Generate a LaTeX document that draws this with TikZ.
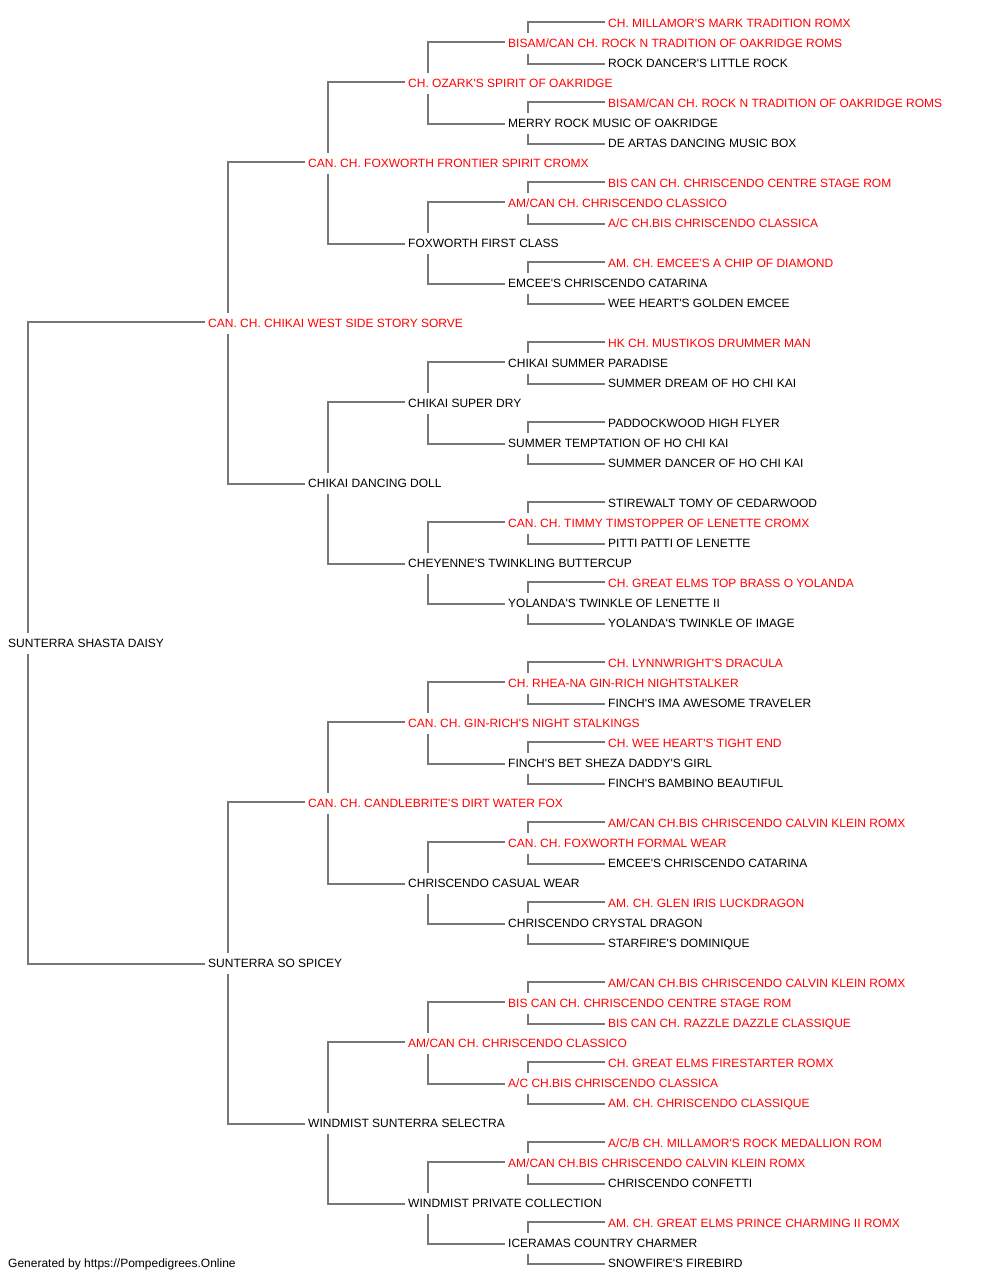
\documentclass[tikz,border=0pt]{standalone}
\usepackage{fontspec}
\newfontfamily\pf{Liberation Sans}
\usetikzlibrary{backgrounds}
\definecolor{linegray}{RGB}{119,119,119}
\definecolor{nred}{RGB}{255,0,0}
\tikzset{
  pn/.style={anchor=base west, inner sep=0pt, fill=white, text height=15pt, text depth=6pt,
             font=\pf\fontsize{12}{14}\selectfont, text=black},
  rd/.style={text=nred},
  conn/.style={draw=linegray, line width=2pt}
}
\newcommand\pn[5]{\node[pn,#4] (#1) at (#2,#3+4.6) {#5};}
\begin{document}
\begin{tikzpicture}[x=1pt,y=-1pt]
\useasboundingbox (0,0) rectangle (1000,1280);
% generation 0
\pn{p1}{8}{643}{}{SUNTERRA SHASTA DAISY}
% generation 1
\pn{p2}{208}{323}{rd}{CAN. CH. CHIKAI WEST SIDE STORY SORVE}
\pn{p3}{208}{963}{}{SUNTERRA SO SPICEY}
% generation 2
\pn{p4}{308}{163}{rd}{CAN. CH. FOXWORTH FRONTIER SPIRIT CROMX}
\pn{p5}{308}{483}{}{CHIKAI DANCING DOLL}
\pn{p6}{308}{803}{rd}{CAN. CH. CANDLEBRITE'S DIRT WATER FOX}
\pn{p7}{308}{1123}{}{WINDMIST SUNTERRA SELECTRA}
% generation 3
\pn{p8}{408}{83}{rd}{CH. OZARK'S SPIRIT OF OAKRIDGE}
\pn{p9}{408}{243}{}{FOXWORTH FIRST CLASS}
\pn{p10}{408}{403}{}{CHIKAI SUPER DRY}
\pn{p11}{408}{563}{}{CHEYENNE'S TWINKLING BUTTERCUP}
\pn{p12}{408}{723}{rd}{CAN. CH. GIN-RICH'S NIGHT STALKINGS}
\pn{p13}{408}{883}{}{CHRISCENDO CASUAL WEAR}
\pn{p14}{408}{1043}{rd}{AM/CAN CH. CHRISCENDO CLASSICO}
\pn{p15}{408}{1203}{}{WINDMIST PRIVATE COLLECTION}
% generation 4
\pn{p16}{508}{43}{rd}{BISAM/CAN CH. ROCK N TRADITION OF OAKRIDGE ROMS}
\pn{p17}{508}{123}{}{MERRY ROCK MUSIC OF OAKRIDGE}
\pn{p18}{508}{203}{rd}{AM/CAN CH. CHRISCENDO CLASSICO}
\pn{p19}{508}{283}{}{EMCEE'S CHRISCENDO CATARINA}
\pn{p20}{508}{363}{}{CHIKAI SUMMER PARADISE}
\pn{p21}{508}{443}{}{SUMMER TEMPTATION OF HO CHI KAI}
\pn{p22}{508}{523}{rd}{CAN. CH. TIMMY TIMSTOPPER OF LENETTE CROMX}
\pn{p23}{508}{603}{}{YOLANDA'S TWINKLE OF LENETTE II}
\pn{p24}{508}{683}{rd}{CH. RHEA-NA GIN-RICH NIGHTSTALKER}
\pn{p25}{508}{763}{}{FINCH'S BET SHEZA DADDY'S GIRL}
\pn{p26}{508}{843}{rd}{CAN. CH. FOXWORTH FORMAL WEAR}
\pn{p27}{508}{923}{}{CHRISCENDO CRYSTAL DRAGON}
\pn{p28}{508}{1003}{rd}{BIS CAN CH. CHRISCENDO CENTRE STAGE ROM}
\pn{p29}{508}{1083}{rd}{A/C CH.BIS CHRISCENDO CLASSICA}
\pn{p30}{508}{1163}{rd}{AM/CAN CH.BIS CHRISCENDO CALVIN KLEIN ROMX}
\pn{p31}{508}{1243}{}{ICERAMAS COUNTRY CHARMER}
% generation 5
\pn{p32}{608}{23}{rd}{CH. MILLAMOR'S MARK TRADITION ROMX}
\pn{p33}{608}{63}{}{ROCK DANCER'S LITTLE ROCK}
\pn{p34}{608}{103}{rd}{BISAM/CAN CH. ROCK N TRADITION OF OAKRIDGE ROMS}
\pn{p35}{608}{143}{}{DE ARTAS DANCING MUSIC BOX}
\pn{p36}{608}{183}{rd}{BIS CAN CH. CHRISCENDO CENTRE STAGE ROM}
\pn{p37}{608}{223}{rd}{A/C CH.BIS CHRISCENDO CLASSICA}
\pn{p38}{608}{263}{rd}{AM. CH. EMCEE'S A CHIP OF DIAMOND}
\pn{p39}{608}{303}{}{WEE HEART'S GOLDEN EMCEE}
\pn{p40}{608}{343}{rd}{HK CH. MUSTIKOS DRUMMER MAN}
\pn{p41}{608}{383}{}{SUMMER DREAM OF HO CHI KAI}
\pn{p42}{608}{423}{}{PADDOCKWOOD HIGH FLYER}
\pn{p43}{608}{463}{}{SUMMER DANCER OF HO CHI KAI}
\pn{p44}{608}{503}{}{STIREWALT TOMY OF CEDARWOOD}
\pn{p45}{608}{543}{}{PITTI PATTI OF LENETTE}
\pn{p46}{608}{583}{rd}{CH. GREAT ELMS TOP BRASS O YOLANDA}
\pn{p47}{608}{623}{}{YOLANDA'S TWINKLE OF IMAGE}
\pn{p48}{608}{663}{rd}{CH. LYNNWRIGHT'S DRACULA}
\pn{p49}{608}{703}{}{FINCH'S IMA AWESOME TRAVELER}
\pn{p50}{608}{743}{rd}{CH. WEE HEART'S TIGHT END}
\pn{p51}{608}{783}{}{FINCH'S BAMBINO BEAUTIFUL}
\pn{p52}{608}{823}{rd}{AM/CAN CH.BIS CHRISCENDO CALVIN KLEIN ROMX}
\pn{p53}{608}{863}{}{EMCEE'S CHRISCENDO CATARINA}
\pn{p54}{608}{903}{rd}{AM. CH. GLEN IRIS LUCKDRAGON}
\pn{p55}{608}{943}{}{STARFIRE'S DOMINIQUE}
\pn{p56}{608}{983}{rd}{AM/CAN CH.BIS CHRISCENDO CALVIN KLEIN ROMX}
\pn{p57}{608}{1023}{rd}{BIS CAN CH. RAZZLE DAZZLE CLASSIQUE}
\pn{p58}{608}{1063}{rd}{CH. GREAT ELMS FIRESTARTER ROMX}
\pn{p59}{608}{1103}{rd}{AM. CH. CHRISCENDO CLASSIQUE}
\pn{p60}{608}{1143}{rd}{A/C/B CH. MILLAMOR'S ROCK MEDALLION ROM}
\pn{p61}{608}{1183}{}{CHRISCENDO CONFETTI}
\pn{p62}{608}{1223}{rd}{AM. CH. GREAT ELMS PRINCE CHARMING II ROMX}
\pn{p63}{608}{1263}{}{SNOWFIRE'S FIREBIRD}
% footer
\pn{foot}{8}{1263}{}{Generated by https://Pompedigrees.Online}
% connectors
\begin{pgfonlayer}{background}
\foreach \i in {1,...,31} {
  \pgfmathtruncatemacro\pa{2*\i}
  \pgfmathtruncatemacro\pb{2*\i+1}
  \draw[conn] ([xshift=20pt]p\i.west) |- ([xshift=-3pt,yshift=1.3pt]p\pa.west);
  \draw[conn] ([xshift=20pt]p\i.west) |- ([xshift=-3pt,yshift=-1.2pt]p\pb.west);
}
\end{pgfonlayer}
\end{tikzpicture}
\end{document}
